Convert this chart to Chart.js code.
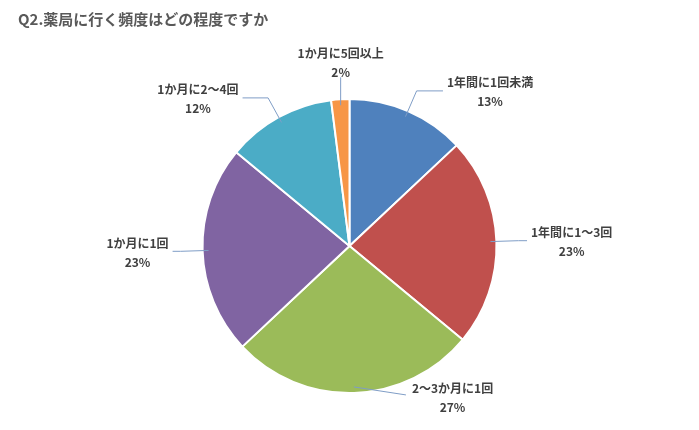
<!DOCTYPE html>
<html><head><meta charset="utf-8">
<script src="https://cdn.jsdelivr.net/npm/chart.js@4"></script>
<style>body{margin:0;background:#fff}#w{position:relative;width:699px;height:430px}
#t{position:absolute;left:18px;top:8px;font:bold 15px "Noto Sans CJK JP",sans-serif;color:#595959}</style>
</head><body><div id="w"><div id="t">Q2.薬局に行く頻度はどの程度ですか</div><canvas id="c" width="699" height="430"></canvas></div>
<script>
const categories=["1年間に1回未満","1年間に1～3回","2～3か月に1回","1か月に1回","1か月に2～4回","1か月に5回以上"];
const values=[13,23,27,23,12,2];
const colors=["#4F81BD","#C0504D","#9BBB59","#8064A2","#4BACC6","#F79646"];
const labelPlugin={id:"lbl",afterDatasetsDraw(ch){
 const ctx=ch.ctx;const meta=ch.getDatasetMeta(0);
 ctx.save();ctx.font='bold 12px "Noto Sans CJK JP",sans-serif';ctx.fillStyle="#404040";
 meta.data.forEach((a,i)=>{
  const m=(a.startAngle+a.endAngle)/2,r=a.outerRadius,cx=a.x,cy=a.y;
  const c=Math.cos(m),s=Math.sin(m);
  const x0=cx+c*(r-6),y0=cy+s*(r-6);
  const x1=cx+c*(r+22),y1=cy+s*(r+22);
  ctx.strokeStyle="#7F9DC6";ctx.lineWidth=1;ctx.beginPath();ctx.moveTo(x0,y0);
  let tx,ty,al;
  if(Math.abs(c)<0.15&&s<0){ctx.lineTo(x0,y1);tx=x0;ty=y1-24;al="center";}
  else if(Math.abs(c)<0.15){ctx.lineTo(x0+52,y0+8);tx=x0+58;ty=y0+2;al="left";}
  else{const d=c>0?1:-1;const h=8+(s<0?-s*20:0);ctx.lineTo(x1,y1);ctx.lineTo(x1+d*h,y1);tx=x1+d*(h+4);ty=y1-8;al=c>0?"left":"right";}
  ctx.stroke();
  ctx.textBaseline="middle";
  const l1=categories[i],l2=values[i]+"%";
  ctx.textAlign=al;ctx.fillText(l1,tx,ty);
  const w=ctx.measureText(l1).width;
  const cx2=al==="center"?tx:al==="left"?tx+w/2:tx-w/2;
  ctx.textAlign="center";ctx.fillText(l2,cx2,ty+19);
 });ctx.restore();}};
new Chart(document.getElementById("c"),{type:"pie",
 data:{labels:categories,datasets:[{data:values,backgroundColor:colors,borderColor:"#fff",borderWidth:2}]},
 options:{responsive:false,animation:false,layout:{padding:{top:98,bottom:36}},
  plugins:{legend:{display:false},tooltip:{enabled:false}}},plugins:[labelPlugin]});
</script></body></html>
